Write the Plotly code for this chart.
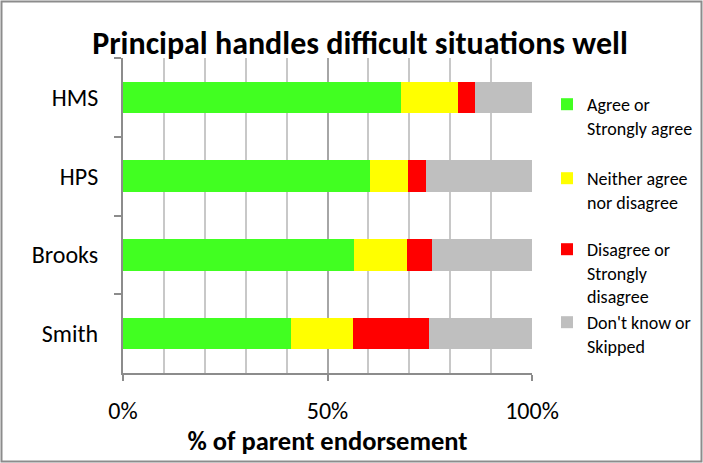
import plotly.graph_objects as go

schools = ["HMS", "HPS", "Brooks", "Smith"]
agree = [68, 60.5, 56.5, 41]
neither = [14, 9.3, 13, 15.3]
disagree = [4, 4.4, 6, 18.4]
dontknow = [14, 25.8, 24.5, 25.3]

series_names = ["Agree or<br>Strongly agree", "Neither agree<br>nor disagree",
                "Disagree or<br>Strongly<br>disagree", "Don't know or<br>Skipped"]
series_values = [agree, neither, disagree, dontknow]
series_colors = ["#41ff21", "#ffff00", "#ff0000", "#bfbfbf"]
legend_ids = ["legend", "legend2", "legend3", "legend4"]

FONT = "Carlito, Calibri, Lato, sans-serif"

fig = go.Figure()
for name, vals, col, lg in zip(series_names, series_values, series_colors, legend_ids):
    fig.add_trace(go.Bar(
        y=schools, x=vals, name=name, orientation="h",
        marker=dict(color=col, line=dict(width=0)),
        width=0.4, legend=lg,
    ))

L, R, T, B = 123, 171, 58, 90
W, H = 703, 463
pw, ph = W - L - R, H - T - B

def px(xp):
    return (xp - L) / pw

def py(yp):
    return (H - B - yp) / ph

legend_tops = [86, 160, 231, 304]
leg_common = dict(font=dict(family=FONT, size=18, color="#000"), valign="top",
                  bgcolor="rgba(0,0,0,0)", xanchor="left", yanchor="top",
                  itemclick=False, itemdoubleclick=False)
layout_legends = {}
for lg, top in zip(legend_ids, legend_tops):
    layout_legends[lg] = dict(x=px(547), y=py(top), **leg_common)

fig.update_layout(
    width=W, height=H,
    margin=dict(l=L, r=R, t=T, b=B, autoexpand=False),
    paper_bgcolor="white", plot_bgcolor="white",
    barmode="stack",
    showlegend=True,
    title=dict(text="<b>Principal handles difficult situations well</b>",
               font=dict(family=FONT, size=32, color="#000"),
               x=360 / W, xref="container", xanchor="center",
               y=1 - 43 / H, yref="container", yanchor="middle"),
    xaxis=dict(range=[0, 100], dtick=50, ticksuffix="%",
               showgrid=True, gridcolor="#a6a6a6", gridwidth=1.5,
               minor=dict(dtick=10, showgrid=True, gridcolor="#c8c8c8", gridwidth=1.5),
               showline=True, linecolor="#8c8c8c", linewidth=2,
               ticks="outside", ticklen=6, tickcolor="#8c8c8c", tickwidth=2,
               ticklabelstandoff=9,
               tickfont=dict(family=FONT, size=24, color="#000"),
               title=dict(text="<b>% of parent endorsement</b>",
                          font=dict(family=FONT, size=26.5, color="#000"), standoff=5),
               zeroline=False, fixedrange=True),
    yaxis=dict(autorange="reversed", type="category",
               showline=True, linecolor="#8c8c8c", linewidth=2,
               ticks="outside", ticklen=7, tickcolor="#8c8c8c", tickwidth=2,
               tickson="boundaries", ticklabelstandoff=18,
               tickfont=dict(family=FONT, size=24, color="#000"),
               showgrid=False, fixedrange=True),
    shapes=[dict(type="rect", xref="paper", yref="paper",
                 x0=px(1.5), x1=px(701.5), y0=py(461.5), y1=py(1.5),
                 line=dict(color="#8c8c8c", width=2), fillcolor="rgba(0,0,0,0)",
                 layer="below")],
    **layout_legends,
)

fig.write_html("out.html", config={"displayModeBar": False},
               post_script="document.body.style.margin='0';")
